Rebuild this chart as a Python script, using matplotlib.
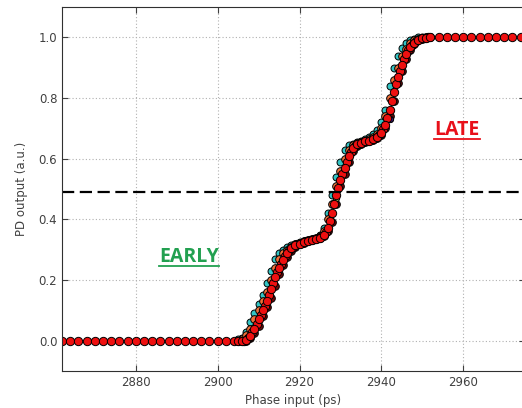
import matplotlib
matplotlib.use("Agg")
import matplotlib.pyplot as plt
from matplotlib.lines import Line2D

# flat parts of the sweep (red trace only, 2 ps step)
flat_lo_x = [2862, 2864, 2866, 2868, 2870, 2872, 2874, 2876, 2878, 2880, 2882,
             2884, 2886, 2888, 2890, 2892, 2894, 2896, 2898, 2900, 2902, 2904]
flat_hi_x = [2954, 2956, 2958, 2960, 2962, 2964, 2966, 2968, 2970, 2972, 2974, 2976]

# transition region, 1 ps step
trans_x = [2905, 2906, 2907, 2908, 2909, 2910, 2911, 2912, 2913, 2914, 2915,
           2916, 2917, 2918, 2919, 2920, 2921, 2922, 2923, 2924, 2925, 2926,
           2927, 2928, 2929, 2930, 2931, 2932, 2933, 2934, 2935, 2936, 2937,
           2938, 2939, 2940, 2941, 2942, 2943, 2944, 2945, 2946, 2947, 2948,
           2949, 2950, 2951, 2952]

red_y = [0.0, 0.0, 0.003, 0.015, 0.04, 0.07, 0.10, 0.13, 0.17, 0.21, 0.24,
         0.265, 0.29, 0.305, 0.315, 0.32, 0.325, 0.33, 0.332, 0.335, 0.34, 0.35,
         0.37, 0.42, 0.48, 0.53, 0.57, 0.61, 0.635, 0.648, 0.653, 0.657, 0.66,
         0.665, 0.672, 0.685, 0.71, 0.76, 0.82, 0.87, 0.91, 0.945, 0.968, 0.983,
         0.992, 0.997, 0.999, 1.0]

# second red sweep, offset by half a step
half_x = [2906.5, 2907.5, 2908.5, 2909.5, 2910.5, 2911.5, 2912.5, 2913.5,
          2914.5, 2915.5, 2916.5, 2917.5, 2918.5, 2919.5, 2920.5, 2921.5,
          2922.5, 2923.5, 2924.5, 2925.5, 2926.5, 2927.5, 2928.5, 2929.5,
          2930.5, 2931.5, 2932.5, 2933.5, 2934.5, 2935.5, 2936.5, 2937.5,
          2938.5, 2939.5, 2940.5, 2941.5, 2942.5, 2943.5, 2944.5, 2945.5,
          2946.5, 2947.5, 2948.5, 2949.5, 2950.5, 2951.5]
half_y = [0.0, 0.008, 0.028, 0.055, 0.085, 0.115, 0.15, 0.19, 0.225, 0.252,
          0.278, 0.298, 0.31, 0.318, 0.322, 0.328, 0.331, 0.334, 0.337, 0.345,
          0.358, 0.395, 0.45, 0.505, 0.55, 0.59, 0.622, 0.642, 0.65, 0.655,
          0.658, 0.662, 0.668, 0.678, 0.697, 0.735, 0.79, 0.845, 0.89, 0.928,
          0.957, 0.976, 0.988, 0.995, 0.998, 1.0]

cyan_y = [0.005, 0.01, 0.03, 0.06, 0.09, 0.12, 0.15, 0.19, 0.23, 0.27, 0.29,
          0.30, 0.31, 0.315, 0.32, 0.325, 0.33, 0.333, 0.336, 0.34, 0.35, 0.37,
          0.42, 0.48, 0.54, 0.59, 0.63, 0.645, 0.65, 0.655, 0.66, 0.665, 0.67,
          0.68, 0.695, 0.72, 0.76, 0.84, 0.90, 0.94, 0.965, 0.98, 0.99, 0.995,
          1.0, 1.0, 1.0, 1.0]

orange_y = [0.0, 0.005, 0.02, 0.04, 0.07, 0.10, 0.13, 0.16, 0.20, 0.24, 0.27,
            0.29, 0.30, 0.31, 0.318, 0.322, 0.328, 0.331, 0.334, 0.338, 0.345, 0.36,
            0.40, 0.45, 0.51, 0.56, 0.60, 0.63, 0.645, 0.652, 0.656, 0.66, 0.664,
            0.67, 0.68, 0.70, 0.74, 0.80, 0.86, 0.90, 0.94, 0.962, 0.98, 0.99,
            0.995, 0.999, 1.0, 1.0]

dark_y = [0.0, 0.0, 0.0, 0.008, 0.025, 0.05, 0.08, 0.11, 0.14, 0.18, 0.22,
          0.25, 0.275, 0.295, 0.31, 0.318, 0.323, 0.328, 0.331, 0.334, 0.338, 0.345,
          0.36, 0.39, 0.45, 0.51, 0.55, 0.59, 0.625, 0.642, 0.65, 0.655, 0.658,
          0.662, 0.668, 0.678, 0.70, 0.74, 0.79, 0.85, 0.89, 0.93, 0.96, 0.978,
          0.99, 0.995, 0.999, 1.0]

odd_x = [2929, 2942]
odd_y = [0.47, 0.73]

threshold = 0.49

fig = plt.figure(figsize=(5.22, 4.08), dpi=100)
ax = fig.add_axes([0.119, 0.0907, 0.886, 0.892])

mk = dict(linestyle="none", marker="o", markeredgecolor="black", markeredgewidth=0.7)

ax.plot(trans_x, dark_y, color="#6a0a0a", markersize=5.5, **mk)
ax.plot(trans_x, cyan_y, color="#33c4c4", markersize=5, **mk)
ax.plot(odd_x, odd_y, color="#c8d060", markersize=4.5, **mk)
ax.plot([odd_x[1]], [odd_y[1]], color="#5020b0", markersize=4, **mk)
ax.plot(trans_x, orange_y, color="#f07038", markersize=5.5, **mk)
ax.plot(half_x, half_y, color="#ee1010", markersize=6, **mk)
ax.plot(flat_lo_x, [0.0] * len(flat_lo_x), color="#ee1010", markersize=6, **mk)
ax.plot(flat_hi_x, [1.0] * len(flat_hi_x), color="#ee1010", markersize=6, **mk)
ax.plot(trans_x, red_y, color="#ee1010", markersize=6, **mk)

ax.axhline(threshold, color="black", linestyle=(0, (5.5, 2.5)), linewidth=1.6)

ax.set_xlim(2862, 2975)
ax.set_ylim(-0.1, 1.1)
ax.set_xticks([2880, 2900, 2920, 2940, 2960])
ax.set_yticks([0.0, 0.2, 0.4, 0.6, 0.8, 1.0])
ax.grid(True, color="#b0b0b0", linestyle=(0, (1, 2)), linewidth=0.8)
ax.tick_params(direction="in", length=4, top=True, right=True,
               labelsize=8.5, labelcolor="#404040", color="#404040")
for s in ax.spines.values():
    s.set_color("#303030")

ax.set_xlabel("Phase input (ps)", fontsize=8.5, color="#404040", labelpad=4)
ax.set_ylabel("PD output (a.u.)", fontsize=8.5, color="#404040", labelpad=8)

early = ax.text(2893, 0.275, "EARLY", color="#22a050", fontsize=14,
                fontweight="bold", family="Open Sans", ha="center", va="center")
late = ax.text(2958.5, 0.695, "LATE", color="#e8101a", fontsize=14,
               fontweight="bold", family="Open Sans", ha="center", va="center")

# underline the two labels
fig.canvas.draw()
inv = fig.transFigure.inverted()
for t in (early, late):
    bb = t.get_window_extent()
    (x0, y0), (x1, _) = inv.transform([[bb.x0, bb.y0 + 1], [bb.x1, bb.y1]])
    fig.add_artist(Line2D([x0, x1], [y0, y0], transform=fig.transFigure,
                          color=t.get_color(), linewidth=1.3))

fig.savefig("out.png", dpi=100)
